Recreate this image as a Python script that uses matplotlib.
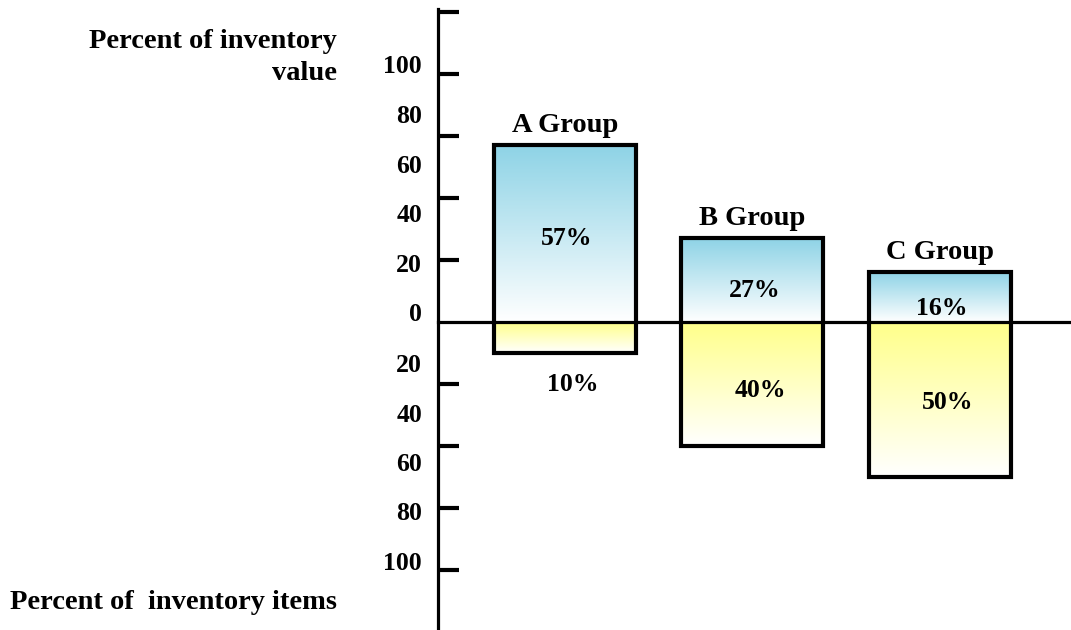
import numpy as np
import matplotlib.pyplot as plt
from matplotlib.colors import LinearSegmentedColormap

plt.rcParams['font.family'] = ['Liberation Serif', 'DejaVu Serif']
plt.rcParams['font.weight'] = 'bold'

groups = ['A Group', 'B Group', 'C Group']
value_pct = [57, 27, 16]    # percent of inventory value (above the line)
items_pct = [10, 40, 50]    # percent of inventory items (below the line)
tick_labels = ['0', '20', '40', '60', '80', '100']

blue = LinearSegmentedColormap.from_list('blue', ['#ffffff', '#8ed3e6'])
yellow = LinearSegmentedColormap.from_list('yellow', ['#ffffff', '#ffff8a'])
grad = np.linspace(0, 1, 256).reshape(-1, 1)

fig = plt.figure(figsize=(10.71, 6.3), dpi=100)
ax = fig.add_axes([0, 0, 1, 1])
ax.set_xlim(-3.013, 2.699)
ax.set_ylim(-99.4, 103.9)
ax.axis('off')

px = 1 / 187.5          # one pixel in x data units
axis_x = -0.677
width = 0.757
x = np.arange(len(groups))
num_fs = 18.5
word_fs = 20.5

# gradient fills
for i in x:
    x0, x1 = i - width / 2, i + width / 2
    ax.imshow(grad, extent=(x0, x1, 0, value_pct[i]), origin='lower',
              cmap=blue, aspect='auto', zorder=1)
    ax.imshow(grad, extent=(x0, x1, -items_pct[i], 0), origin='lower',
              cmap=yellow, aspect='auto', zorder=1)

# outlines
ax.bar(x, np.array(value_pct) + np.array(items_pct), bottom=-np.array(items_pct),
       width=width, fill=False, edgecolor='black', linewidth=3, zorder=2)

# axes lines
ax.plot([axis_x, 2.699], [0, 0], color='black', lw=2.3, zorder=3)
ax.plot([axis_x, axis_x], [-99.4, 101], color='black', lw=2.3, zorder=3)
for v in [20, 40, 60, 80, 100, -20, -40, -60, -80]:
    ax.plot([axis_x + 2 * px, axis_x + 21 * px], [v, v], color='black',
            lw=3, solid_capstyle='butt', zorder=3)

# scale labels (offset from the ticks)
lab_x = axis_x - 16 * px
for k, t in enumerate(tick_labels):
    ax.text(lab_x, 2.3 + 16 * k, t, ha='right', va='center', fontsize=num_fs)
for k, t in enumerate(tick_labels[1:]):
    ax.text(lab_x, -14.2 - 15.9 * k, t, ha='right', va='center', fontsize=num_fs)

# group names and percentages
for i in x:
    ax.text(i, value_pct[i] + 2.5, groups[i], ha='center', va='bottom', fontsize=word_fs)

val_y = [27, 10.3, 4.5]
item_y = [-20.3, -22, -26]
for i in x:
    ax.text(i + 0.01, val_y[i], f'{value_pct[i]}%', ha='center', va='center', fontsize=num_fs)
    ax.text(i + 0.04, item_y[i], f'{items_pct[i]}%', ha='center', va='center', fontsize=num_fs)

ax.text(-3.013 + 337 * px, 90.5, 'Percent of inventory', ha='right', va='center', fontsize=word_fs)
ax.text(-3.013 + 337 * px, 80.3, 'value', ha='right', va='center', fontsize=word_fs)
ax.text(-3.013 + 10 * px, -90.6, 'Percent of  inventory items', ha='left', va='center', fontsize=word_fs)

fig.savefig('out.png', dpi=100)
